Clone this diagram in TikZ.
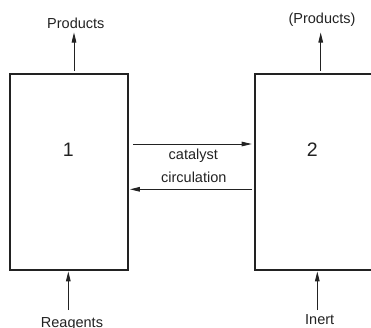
\documentclass[tikz,border=0pt]{standalone}
\usepackage{fontspec}
\setmainfont{Liberation Sans}
\usetikzlibrary{arrows.meta}
\definecolor{ink}{HTML}{222222}
\begin{document}
\begin{tikzpicture}[x=1pt,y=-1pt,
  reactor/.style={draw=ink, line width=1.4pt, minimum width=118pt, minimum height=196pt, inner sep=0pt},
  digit/.style={font=\fontsize{19.5}{22}\selectfont, text=ink, inner sep=0pt},
  lbl/.style={font=\fontsize{14.5}{17}\selectfont, text=ink, inner sep=0pt, anchor=base},
  flow/.style={draw=ink, line width=0.9pt, -{Triangle[length=10pt,width=4.6pt]}}]
\useasboundingbox (0,0) rectangle (371,327);
\clip (0,0) rectangle (371,327);
% reactors
\node[reactor] (r1) at (69,172) {};
\node[reactor] (r2) at (314,172) {};
\node[digit] (n1) at (68.3,149.3) {1};
\node[digit] (n2) at (312.3,149.3) {2};
% helper coordinates
\coordinate (p1) at (74,32.5);
\coordinate (p2) at (320.7,32.5);
\coordinate (ya) at (0,144);
\coordinate (yb) at (0,189.3);
\coordinate (rg) at (68.3,310);
\coordinate (in) at (317.3,310);
% outputs
\draw[flow, shorten <=2.3pt] (r1.north -| p1) -- (p1);
\draw[flow, shorten <=2.3pt] (r2.north -| p2) -- (p2);
\node[lbl] (tprod) at (75.8,28) {Products};
\node[lbl] (tprod2) at (322,23.7) {(Products)};
% catalyst circulation
\draw[flow, shorten <=4.6pt, shorten >=2.6pt] (r1.east |- ya) -- (r2.west |- ya);
\draw[flow, shorten <=2.3pt, shorten >=1.2pt] (r2.west |- yb) -- (r1.east |- yb);
\node[lbl] (tcat) at (193.3,159) {catalyst};
\node[lbl] (tcirc) at (193.8,182) {circulation};
% inputs
\draw[flow, shorten >=0.7pt] (rg) -- (r1.south -| rg);
\draw[flow, shorten >=0.7pt] (in) -- (r2.south -| in);
\node[lbl] (treag) at (72,327.2) {Reagents};
\node[lbl] (tinert) at (319.7,324.6) {Inert};
\end{tikzpicture}
\end{document}
